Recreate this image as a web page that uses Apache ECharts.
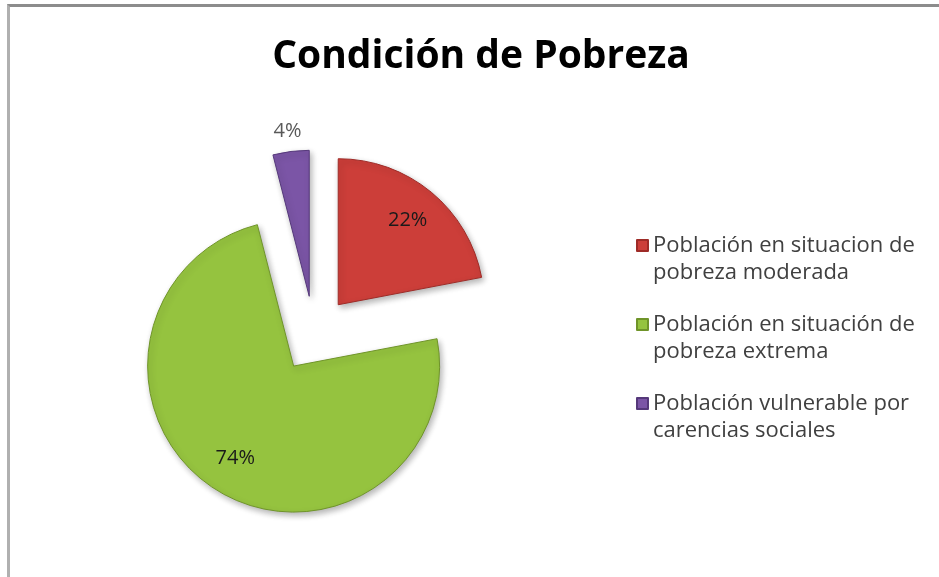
<!DOCTYPE html>
<html>
<head>
<meta charset="utf-8">
<script src="https://cdn.jsdelivr.net/npm/echarts@6/dist/echarts.min.js"></script>
<style>
  html, body { margin: 0; padding: 0; background: #fff; }
  .frame {
    position: absolute; left: 7px; top: 4px; width: 940px; height: 580px;
    border-top: 3px solid #8c8c8c; border-left: 3px solid #b0b0b0;
  }
  #chart { position: absolute; left: 0; top: 0; width: 939px; height: 577px; }
</style>
</head>
<body>
<div class="frame"></div>
<div id="chart"></div>
<script>
  // datos del gráfico
  const categorias = [
    'Población en situacion de\npobreza moderada',
    'Población en situación de\npobreza extrema',
    'Población vulnerable por\ncarencias sociales',
  ];
  const valores = [22, 74, 4];
  const colores = ['#CC3E39', '#95C33F', '#7B55A6'];
  const bordes = ['#9e2b27', '#6f9429', '#55387a'];

  const chart = echarts.init(document.getElementById('chart'));

  const pieData = categorias.map((name, i) => ({
    name,
    value: valores[i],
    selected: true,
    itemStyle: { color: colores[i], borderColor: bordes[i] },
  }));

  // serie transparente solo para las etiquetas (más hacia el borde)
  const labelData = categorias.map((name, i) => ({
    name,
    value: valores[i],
    selected: true,
    label:
      i === 2
        ? { position: 'outside', color: '#595959' }
        : { position: 'inside', color: '#1a1a1a' },
  }));

  const option = {
    animation: false,
    title: {
      text: 'Condición de Pobreza',
      left: 476,
      textAlign: 'center',
      top: 32,
      textStyle: { fontFamily: 'Open Sans', fontWeight: 'bold', fontSize: 39, color: '#000' },
    },
    legend: {
      orient: 'vertical',
      left: 631,
      top: 200,
      itemWidth: 11,
      itemHeight: 11,
      itemGap: -2,
      icon: 'rect',
      data: categorias,
      selectedMode: false,
      // línea vacía delante para que el icono quede a la altura de la primera línea
      formatter: name => '\n' + name,
      textStyle: {
        fontFamily: 'Open Sans',
        fontSize: 22,
        lineHeight: 27,
        color: '#404040',
      },
    },
    series: [
      {
        type: 'pie',
        center: [314, 334],
        radius: [0, 146],
        startAngle: 90,
        selectedMode: 'multiple',
        selectedOffset: 38,
        silent: true,
        label: { show: false },
        labelLine: { show: false },
        itemStyle: {
          borderWidth: 1,
          shadowBlur: 6,
          shadowOffsetX: 2,
          shadowOffsetY: 3,
          shadowColor: 'rgba(0,0,0,0.3)',
        },
        data: pieData,
      },
      {
        type: 'pie',
        center: [314, 334],
        radius: [66, 146],
        startAngle: 90,
        selectedMode: 'multiple',
        selectedOffset: 38,
        silent: true,
        itemStyle: { color: 'rgba(0,0,0,0)' },
        label: {
          show: true,
          formatter: '{c}%',
          fontFamily: 'Open Sans',
          fontSize: 20,
        },
        labelLine: { show: false, length: 20, length2: 0 },
        labelLayout: function(params) {
          if (params.dataIndex === 2) return { dx: 18 };
        },
        data: labelData,
      },
    ],
  };

  chart.setOption(option);
  window.onresize = function() {
    chart.resize();
  };
</script>
</body>
</html>
